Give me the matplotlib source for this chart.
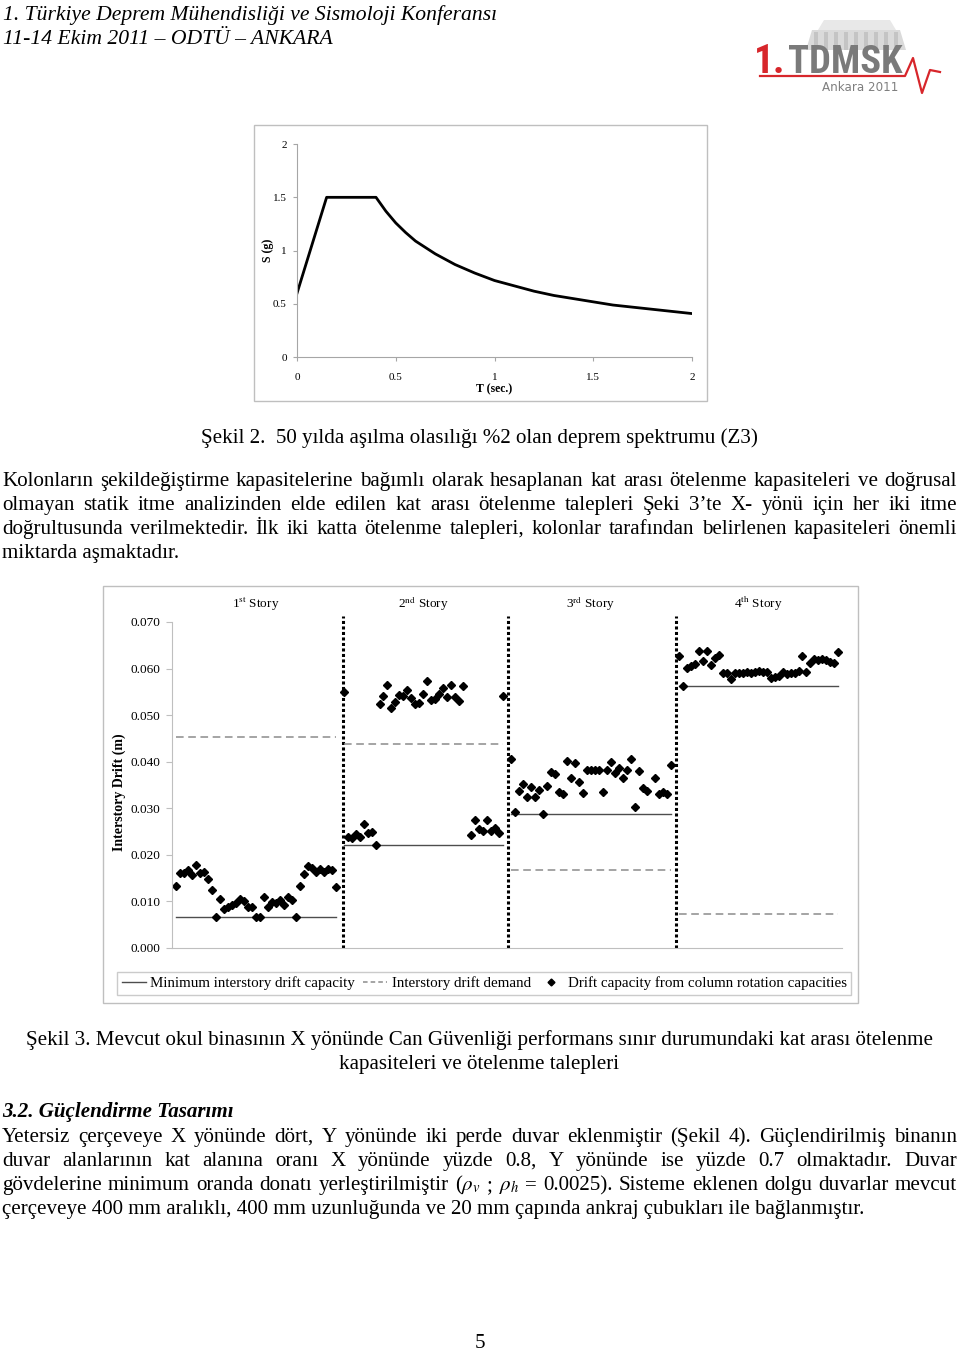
import matplotlib
matplotlib.use('Agg')
import matplotlib.pyplot as plt
from matplotlib import font_manager
from matplotlib.patches import Rectangle, Polygon
from matplotlib.lines import Line2D

W, H = 960, 1351
plt.rcParams['font.family'] = ['Liberation Serif', 'DejaVu Serif']
plt.rcParams['mathtext.fontset'] = 'stix'

# ---------------- data ----------------
spec_T = [0.0, 0.15, 0.40, 0.45, 0.50, 0.55, 0.60, 0.65, 0.70, 0.75, 0.80, 0.90, 1.00,
          1.10, 1.20, 1.30, 1.40, 1.50, 1.60, 1.70, 1.80, 1.90, 2.00]
spec_S = [0.60, 1.50, 1.50, 1.37, 1.26, 1.17, 1.09, 1.03, 0.97, 0.92, 0.87, 0.79, 0.72,
          0.67, 0.62, 0.58, 0.55, 0.52, 0.49, 0.47, 0.45, 0.43, 0.41]
spec_ticks = [0, 0.5, 1, 1.5, 2]
spec_ticklabels = ['0', '0.5', '1', '1.5', '2']

story_names = ['1$^{\\mathrm{st}}$ Story', '2$^{\\mathrm{nd}}$ Story', '3$^{\\mathrm{rd}}$ Story', '4$^{\\mathrm{th}}$ Story']
story_first = [0, 42, 84, 126]
story_last = [40, 82, 124, 166]
divider_idx = [41.9, 83.2, 125.3]
min_capacity = [0.0067, 0.0221, 0.0287, 0.0563]
drift_demand = [0.0454, 0.0437, 0.0167, 0.0074]

s1_idx = list(range(0, 41))
s1_cap = [0.0133, 0.0162, 0.0162, 0.0167, 0.0156, 0.0178, 0.0161, 0.0163, 0.0148, 0.0124,
          0.0067, 0.0105, 0.0083, 0.0089, 0.0092, 0.0096, 0.0105, 0.0101, 0.0089, 0.0087,
          0.0067, 0.0067, 0.0110, 0.0087, 0.0098, 0.0096, 0.0102, 0.0092, 0.0109, 0.0103,
          0.0067, 0.0134, 0.0158, 0.0176, 0.0171, 0.0163, 0.0170, 0.0163, 0.0170, 0.0168,
          0.0130]
s2_idx = [42] + list(range(43, 51)) + list(range(51, 73)) + list(range(74, 82)) + [82]
s2_cap = [0.0549,
          0.0238, 0.0236, 0.0244, 0.0239, 0.0267, 0.0246, 0.0248, 0.0221,
          0.0524, 0.0541, 0.0564, 0.0515, 0.0528, 0.0543, 0.0541, 0.0555, 0.0537, 0.0524,
          0.0526, 0.0545, 0.0573, 0.0533, 0.0535, 0.0545, 0.0559, 0.0540, 0.0564, 0.0539,
          0.0530, 0.0562,
          0.0243, 0.0274, 0.0256, 0.0252, 0.0274, 0.0252, 0.0258, 0.0247,
          0.0542]
s3_idx = [84] + list(range(85, 119)) + list(range(120, 125))
s3_cap = [0.0406, 0.0291, 0.0337, 0.0352, 0.0324, 0.0346, 0.0324, 0.0340, 0.0287, 0.0347,
          0.0377, 0.0374, 0.0335, 0.0330, 0.0402, 0.0364, 0.0398, 0.0356, 0.0333, 0.0383,
          0.0383, 0.0383, 0.0383, 0.0336, 0.0383, 0.0399, 0.0376, 0.0386, 0.0365, 0.0383,
          0.0406, 0.0303, 0.0379, 0.0344, 0.0338, 0.0364, 0.0331, 0.0335, 0.0330, 0.0393]
s4_idx = list(range(126, 167))
s4_cap = [0.0626, 0.0563, 0.0601, 0.0606, 0.0610, 0.0637, 0.0616, 0.0638, 0.0607, 0.0623,
          0.0630, 0.0590, 0.0590, 0.0577, 0.0591, 0.0590, 0.0591, 0.0593, 0.0590, 0.0593,
          0.0595, 0.0593, 0.0593, 0.0579, 0.0582, 0.0585, 0.0593, 0.0589, 0.0590, 0.0591,
          0.0595, 0.0628, 0.0593, 0.0613, 0.0620, 0.0619, 0.0620, 0.0618, 0.0615, 0.0611,
          0.0635]
drift_ticks = [0.0, 0.01, 0.02, 0.03, 0.04, 0.05, 0.06, 0.07]
legend_labels = ['Minimum interstory drift capacity', 'Interstory drift demand',
                 'Drift capacity from column rotation capacities']

header1 = '1. Türkiye Deprem Mühendisliği ve Sismoloji Konferansı'
header2 = '11-14 Ekim 2011 – ODTÜ – ANKARA'
logo_num = '1.'
logo_name = 'TDMSK'
logo_sub = 'Ankara 2011'
caption2 = 'Şekil 2.  50 yılda aşılma olasılığı %2 olan deprem spektrumu (Z3)'
para1 = ['Kolonların şekildeğiştirme kapasitelerine bağımlı olarak hesaplanan kat arası ötelenme kapasiteleri ve doğrusal',
         'olmayan statik itme analizinden elde edilen kat arası ötelenme talepleri Şeki 3’te X- yönü için her iki itme',
         'doğrultusunda verilmektedir. İlk iki katta ötelenme talepleri, kolonlar tarafından belirlenen kapasiteleri önemli',
         'miktarda aşmaktadır.']
caption3 = ['Şekil 3. Mevcut okul binasının X yönünde Can Güvenliği performans sınır durumundaki kat arası ötelenme',
            'kapasiteleri ve ötelenme talepleri']
heading = '3.2. Güçlendirme Tasarımı'
para2 = ['Yetersiz çerçeveye X yönünde dört, Y yönünde iki perde duvar eklenmiştir (Şekil 4). Güçlendirilmiş binanın',
         'duvar alanlarının kat alanına oranı X yönünde yüzde 0.8, Y yönünde ise yüzde 0.7 olmaktadır. Duvar',
         'gövdelerine minimum oranda donatı yerleştirilmiştir ($\\rho_v$ ; $\\rho_h$ = 0.0025). Sisteme eklenen dolgu duvarlar mevcut',
         'çerçeveye 400 mm aralıklı, 400 mm uzunluğunda ve 20 mm çapında ankraj çubukları ile bağlanmıştır.']
page_no = '5'

# ---------------- helpers ----------------
installed = {f.name for f in font_manager.fontManager.ttflist}
narrow = 'Roboto'
for cand in ('Roboto Condensed', 'Liberation Sans Narrow', 'DejaVu Sans Condensed', 'Open Sans Condensed'):
    if cand in installed:
        narrow = cand
        break

fig = plt.figure(figsize=(W / 100, H / 100), dpi=100)
renderer = fig.canvas.get_renderer()


def fx(x):
    return x / W


def fy(y):
    return 1 - y / H


def put(s, x, y, **kw):
    kw.setdefault('va', 'baseline')
    return fig.text(fx(x), fy(y), s, **kw)


def width(s, **kw):
    t = fig.text(0, 0, s, **kw)
    w = t.get_window_extent(renderer).width
    t.remove()
    return w


def fit_size(s, target, **kw):
    w = width(s, fontsize=10, **kw)
    return 10 * target / w


def justify(line, x0, x1, y, **kw):
    words = line.split(' ')
    ws = [width(w_, **kw) for w_ in words]
    gap = (x1 - x0 - sum(ws)) / (len(words) - 1)
    x = x0
    for w_, wd in zip(words, ws):
        put(w_, x, y, **kw)
        x += wd + gap


def rect(x0, y0, x1, y1, **kw):
    fig.add_artist(Rectangle((fx(x0), fy(y1)), fx(x1) - fx(x0), fy(y0) - fy(y1),
                             transform=fig.transFigure, **kw))


# header
fs_head = fit_size(header1, 494, style='italic')
put(header1, 3, 20, fontsize=fs_head, style='italic', color='black')
put(header2, 3, 44, fontsize=fs_head, style='italic', color='black')

# logo
fig.add_artist(Polygon([(fx(806), fy(50)), (fx(812), fy(30)), (fx(900), fy(30)), (fx(906), fy(50))],
                       closed=True, transform=fig.transFigure, facecolor='#DADADA', edgecolor='none'))
fig.add_artist(Polygon([(fx(818), fy(30)), (fx(824), fy(20)), (fx(890), fy(20)), (fx(896), fy(30))],
                       closed=True, transform=fig.transFigure, facecolor='#E8E8E8', edgecolor='none'))
for k in range(9):
    rect(814 + k * 10, 32, 818 + k * 10, 50, facecolor='#C4C4C4', edgecolor='none')
fs_num = fit_size(logo_num, 32, family=narrow, fontweight='bold')
put(logo_num, 754, 73, fontsize=fs_num, fontweight='bold', color='#D7262B', family=narrow)
fs_name = fit_size(logo_name, 114, family=narrow, fontweight='bold')
put(logo_name, 788, 73, fontsize=fs_name, fontweight='bold', color='#7A7A7A', family=narrow)
for yy in (55, 61, 67):
    rect(788, yy, 905, yy + 1.5, facecolor='white', edgecolor='none')
fig.add_artist(Line2D([fx(v) for v in (760, 905, 913, 922, 930, 940)],
                      [fy(v) for v in (76, 76, 58, 93, 70, 72)],
                      transform=fig.transFigure, color='#D7262B', lw=1.6))
fs_sub = fit_size(logo_sub, 76, family='DejaVu Sans')
put(logo_sub, 822, 91, fontsize=fs_sub, color='#7F7F7F', family='DejaVu Sans')

# ---------------- spectrum chart ----------------
rect(254, 125, 707, 401, facecolor='none', edgecolor='#BFBFBF', lw=1)
ax1 = fig.add_axes([fx(297), fy(357.3), fx(692) - fx(297), fy(144) - fy(357.3)])
ax1.plot(spec_T, spec_S, color='black', lw=2)
ax1.set_xlim(0, 2)
ax1.set_ylim(0, 2)
ax1.set_xticks(spec_ticks)
ax1.set_xticklabels(spec_ticklabels)
ax1.set_yticks(spec_ticks)
ax1.set_yticklabels(spec_ticklabels)
for sp in ('top', 'right'):
    ax1.spines[sp].set_visible(False)
for sp in ('left', 'bottom'):
    ax1.spines[sp].set_color('#A6A6A6')
    ax1.spines[sp].set_linewidth(0.8)
ax1.tick_params(length=3, width=0.8, color='#A6A6A6', labelsize=8)
ax1.tick_params(axis='y', pad=4.3)
ax1.tick_params(axis='x', pad=8.5)
ax1.set_xlabel('T (sec.)', fontsize=8.5, fontweight='bold')
ax1.xaxis.set_label_coords(0.499, -0.122)
ax1.set_ylabel('S (g)', fontsize=8.5, fontweight='bold')
ax1.yaxis.set_label_coords(-0.058, 0.503)

# captions / paragraphs
fs_body = fit_size(caption3[1], 278)
put(caption2, 479, 443, fontsize=fs_body, ha='center')
for i, line in enumerate(para1):
    yb = 486 + 24 * i
    if i < len(para1) - 1:
        justify(line, 2, 957, yb, fontsize=fs_body)
    else:
        put(line, 2, yb, fontsize=fs_body)

# ---------------- drift chart ----------------
rect(103, 586, 858, 1003, facecolor='none', edgecolor='#BFBFBF', lw=1)
ax2 = fig.add_axes([fx(172), fy(948), fx(842) - fx(172), fy(616.4) - fy(948)])
ax2.set_xlim(-1, 166.9)
ax2.set_ylim(0, 0.0712)
for d in divider_idx:
    ax2.plot([d, d], [0, 0.0712], color='black', lw=2.2, linestyle=(0, (1.0, 0.8)), clip_on=False)
for a, b, m, dd in zip(story_first, story_last, min_capacity, drift_demand):
    ax2.plot([a, b], [m, m], color='#4D4D4D', lw=1)
    ax2.plot([a, b], [dd, dd], color='#8C8C8C', lw=1.1, linestyle=(0, (5, 3)))
for ix, cap in ((s1_idx, s1_cap), (s2_idx, s2_cap), (s3_idx, s3_cap), (s4_idx, s4_cap)):
    ax2.plot(ix, cap, linestyle='none', marker='D', markersize=4.2, color='black', clip_on=False)
for name, a, b in zip(story_names, story_first, story_last):
    ax2.text((a + b) / 2, 0.0729, name, ha='center', va='baseline', fontsize=9.5)
ax2.set_yticks(drift_ticks)
ax2.set_yticklabels(['%.3f' % v for v in drift_ticks])
ax2.set_xticks([])
for sp in ('top', 'right'):
    ax2.spines[sp].set_visible(False)
ax2.spines['left'].set_bounds(0, 0.07)
for sp in ('left', 'bottom'):
    ax2.spines[sp].set_color('#BFBFBF')
    ax2.spines[sp].set_linewidth(0.8)
ax2.tick_params(axis='y', length=4, width=0.8, color='#BFBFBF', labelsize=9.5, pad=4.3)
ax2.set_ylabel('Interstory Drift (m)', fontsize=10, fontweight='bold')
ax2.yaxis.set_label_coords(-0.069, 0.47)

handles = [Line2D([], [], color='#4D4D4D', lw=1),
           Line2D([], [], color='#8C8C8C', lw=1.1, linestyle=(0, (3, 2))),
           Line2D([], [], linestyle='none', marker='D', markersize=3.5, color='black')]
fig.legend(handles, legend_labels, ncol=3, loc='lower left',
           bbox_to_anchor=(fx(117), fy(995), fx(851) - fx(117), fy(969) - fy(995)),
           mode='expand', fontsize=10.8, frameon=True, fancybox=False, edgecolor='#BFBFBF',
           handlelength=1.6, handletextpad=0.3, borderaxespad=0, borderpad=0.3)

# caption 3
put(caption3[0], 479, 1045, fontsize=fs_body, ha='center')
put(caption3[1], 479, 1069, fontsize=fs_body, ha='center')

# section heading and paragraph 2
put(heading, 2, 1117, fontsize=fs_body, style='italic', fontweight='bold')
for i, line in enumerate(para2):
    yb = 1142 + 24 * i
    if i < len(para2) - 1:
        justify(line, 2, 957, yb, fontsize=fs_body)
    else:
        put(line, 2, yb, fontsize=fs_body)

put(page_no, 480, 1348, fontsize=fs_body, ha='center')

fig.savefig('out.png', dpi=100)
